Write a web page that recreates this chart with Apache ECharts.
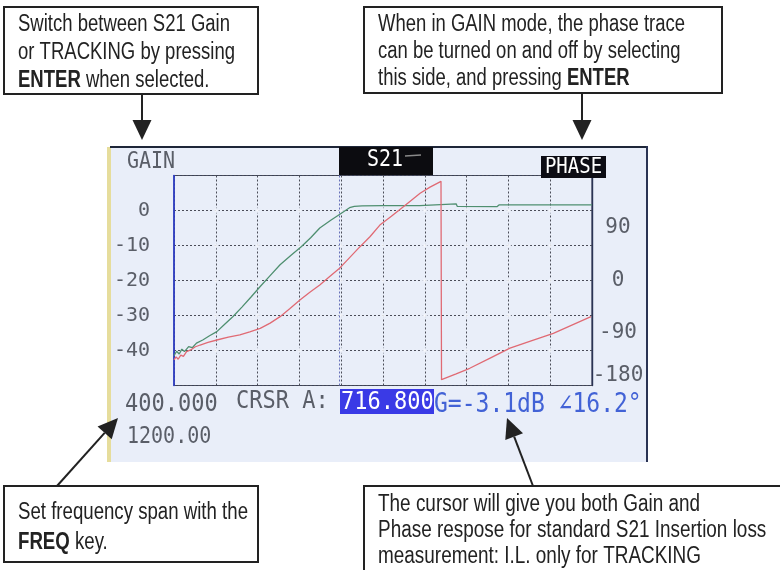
<!DOCTYPE html>
<html>
<head>
<meta charset="utf-8">
<title>S21 gain / phase screen</title>
<script src="https://cdn.jsdelivr.net/npm/echarts@6/dist/echarts.min.js"></script>
<style>
  html, body { margin: 0; padding: 0; background: #ffffff; }
  #chart { width: 780px; height: 570px; }
</style>
</head>
<body>
<div id="chart"></div>
<script>
// ── data ──
const gainFreqs  = [400, 405, 410, 415, 420, 428, 435, 443, 455, 468, 482, 497, 513, 530, 547, 565, 584, 603, 624, 644, 662, 679, 700, 716, 726, 736, 745, 760, 800, 870, 871, 940, 942, 1018, 1022, 1200];
const gainValues = [-41.5, -40.2, -41, -39.6, -40.3, -38.9, -39.2, -37.9, -37, -35.8, -34.6, -32.5, -30.3, -27.6, -24.8, -21.7, -18.6, -15.5, -12.8, -10.3, -7.7, -5, -2.8, -1.2, -0.2, 0.8, 1.2, 1.3, 1.4, 1.4, 1.9, 1.9, 1.2, 1.1, 1.6, 1.6];

const phaseFreqs  = [400, 404, 408, 413, 418, 424, 432, 440, 450, 465, 482, 504, 526, 545, 565, 584, 603, 622, 641, 660, 679, 698, 718, 737, 756, 775, 794, 816, 839, 855, 871, 890, 911, 912, 940, 966, 1005, 1043, 1085, 1126, 1198];
const phaseValues = [-136, -131, -135, -128, -130, -122, -119, -114, -110.6, -106, -102, -97, -93.4, -88, -82, -73, -62, -48, -33.4, -20, -7.7, 7, 22, 40, 58, 75, 95, 110, 126.5, 138, 149.5, 160, 170, -170, -160, -150.5, -133, -116, -103, -90.5, -62];

const freqTicks  = [480, 560, 640, 720, 800, 880, 960, 1040, 1120];
const gainTicks  = [-40, -30, -20, -10, 0];
const phaseTicks = [-180, -90, 0, 90];

const spanStart   = '400.000';
const spanStop    = '1200.00';
const cursorFreq  = 716.8;
const cursorGain  = -3.1;
const cursorPhase = 16.2;

// ── styles ──
const MONO = "'DejaVu Sans Mono', 'Liberation Mono', monospace";
const SANS = "'Liberation Sans', Arial, sans-serif";
const NOTE_SIZE = 23;
const LCD_TEXT = '#5a5e68';
const INK = '#222222';

const chart = echarts.init(document.getElementById('chart'));

function zip(xs, ys) { return xs.map((x, i) => [x, ys[i]]); }

// the callouts use a condensed face; squeeze Liberation Sans to the width of the widest line
const measureCtx = document.createElement('canvas').getContext('2d');
function squeeze(text, target) {
  measureCtx.font = NOTE_SIZE + 'px ' + SANS;
  return target / measureCtx.measureText(text).width;
}

// arrow: shaft + filled head, tip at (x2, y2)
function arrow(x1, y1, x2, y2) {
  const dx = x2 - x1, dy = y2 - y1, L = Math.hypot(dx, dy);
  const ux = dx / L, uy = dy / L, hl = 20, hw = 9.5;
  const bx = x2 - ux * hl, by = y2 - uy * hl;
  return [
    { type: 'line', shape: { x1, y1, x2: bx, y2: by }, style: { stroke: INK, lineWidth: 2 } },
    { type: 'polygon', shape: { points: [[x2, y2], [bx - uy * hw, by + ux * hw], [bx + uy * hw, by - ux * hw]] }, style: { fill: INK } },
  ];
}

function noteBox(x, y, w, h, lines, lineGap, firstY, widest) {
  const sx = squeeze(lines[0], widest);
  const els = [{ type: 'rect', shape: { x, y, width: w, height: h }, style: { fill: '#fff', stroke: INK, lineWidth: 2 } }];
  lines.forEach((t, i) => {
    els.push({
      type: 'text', x: x + 14, y: firstY + i * lineGap, scaleX: sx,
      style: {
        text: t, x: 0, y: 0, verticalAlign: 'middle', fill: INK,
        fontFamily: SANS, fontSize: NOTE_SIZE,
        rich: { b: { fontFamily: SANS, fontSize: NOTE_SIZE, fontWeight: 'bold', fill: INK } },
      },
    });
  });
  return els;
}

function lcdText(text, x, y, size, color, opts = {}) {
  return {
    type: 'text', x, y, scaleY: opts.scaleY || 1.15, z: 20,
    style: { text, x: 0, y: 0, verticalAlign: 'middle', align: opts.align || 'left', fill: color, fontFamily: MONO, fontSize: size },
  };
}

const crossDots = [];
freqTicks.forEach(f => gainTicks.forEach(g => crossDots.push([f, g])));

const graphics = [
  // screen
  { type: 'rect', z: -10, shape: { x: 110, y: 147, width: 537, height: 315 }, style: { fill: '#e9eef9' } },
  { type: 'rect', z: -9, shape: { x: 107, y: 147, width: 4, height: 315 }, style: { fill: '#e6dd9c' } },
  { type: 'rect', z: -9, shape: { x: 110, y: 146, width: 538, height: 2 }, style: { fill: '#1e2638' } },
  { type: 'rect', z: -9, shape: { x: 646, y: 146, width: 2, height: 316 }, style: { fill: '#2a3354' } },
  // header
  lcdText('GAIN', 127, 162, 20, LCD_TEXT),
  { type: 'rect', z: 15, shape: { x: 339, y: 147, width: 94, height: 28 }, style: { fill: '#0c0c10' } },
  lcdText('S21', 367, 160, 20, '#ffffff'),
  { type: 'line', z: 20, shape: { x1: 405, y1: 156, x2: 421, y2: 155 }, style: { stroke: '#8a8a8a', lineWidth: 1.5 } },
  { type: 'rect', z: 15, shape: { x: 541, y: 156, width: 65, height: 22 }, style: { fill: '#0c0c14' } },
  lcdText('PHASE', 573.5, 167, 19, '#ffffff', { align: 'center' }),
  // status line
  lcdText(spanStart, 125, 404, 22, LCD_TEXT),
  lcdText('CRSR A:', 236, 401, 22, LCD_TEXT),
  { type: 'rect', z: 15, shape: { x: 340, y: 389, width: 94, height: 25 }, style: { fill: '#3a3ae6' } },
  lcdText(cursorFreq.toFixed(3), 341, 402, 22, '#ffffff'),
  lcdText('G=' + cursorGain.toFixed(1) + 'dB \u2220' + cursorPhase.toFixed(1) + '\u00b0', 434, 405, 23, '#4262d6'),
  lcdText(spanStop, 127, 437, 20, LCD_TEXT),
  // annotation boxes
  ...noteBox(4, 7, 254, 87, ['Switch between S21 Gain', 'or TRACKING by pressing', '{b|ENTER} when selected.'], 28, 25, 212),
  ...noteBox(364, 7, 358, 86, ['When in GAIN mode, the phase trace', 'can be turned on and off by selecting', 'this side, and pressing {b|ENTER}'], 27, 25, 307),
  ...noteBox(4, 486, 254, 76, ['Set frequency span with the', '{b|FREQ} key.'], 30, 513, 230),
  ...noteBox(364, 486, 430, 100, ['The cursor will give you both Gain and', 'Phase respose for standard S21 Insertion loss', 'measurement: I.L. only for TRACKING'], 26, 505, 322),
  // arrows
  ...arrow(142, 94, 142, 140),
  ...arrow(582, 93, 582, 140),
  ...arrow(57, 486, 118, 418),
  ...arrow(533, 486, 507, 418),
];

chart.setOption({
  animation: false,
  backgroundColor: '#ffffff',
  grid: {
    left: 174, top: 175.5, width: 418, height: 210,
    show: true, borderColor: '#3c4258', borderWidth: 1.2, backgroundColor: 'transparent',
    outerBoundsMode: 'none',
  },
  xAxis: {
    type: 'value', min: 400, max: 1200, interval: 80,
    axisLine: { show: false }, axisTick: { show: false }, axisLabel: { show: false },
    splitLine: { show: true, lineStyle: { color: '#4a4c58', width: 1, type: [2, 2] } },
  },
  yAxis: [
    {
      type: 'value', min: -50, max: 10, interval: 10, position: 'left',
      axisLine: { show: true, lineStyle: { color: '#2b3bd0', width: 1.6 } },
      axisTick: { show: false },
      axisLabel: {
        margin: 24, color: LCD_TEXT, fontFamily: MONO, fontSize: 20,
        formatter: v => gainTicks.includes(v) ? String(v) : '',
      },
      splitLine: { show: true, lineStyle: { color: '#4a4c58', width: 1, type: [2, 2] } },
    },
    {
      type: 'value', min: -180, max: 180, interval: 90, position: 'right',
      axisLine: { show: true, lineStyle: { color: '#2a3354', width: 1.4 } },
      axisTick: { show: false },
      splitLine: { show: false },
      axisLabel: {
        margin: 26, align: 'center', color: LCD_TEXT, fontFamily: MONO, fontSize: 21,
        formatter: v => v === -180 ? '{lo|-180}' : (phaseTicks.includes(v) ? String(v) : ''),
        rich: { lo: { padding: [0, 0, 20, 0], color: LCD_TEXT, fontFamily: MONO, fontSize: 21 } },
      },
    },
  ],
  graphic: graphics,
  series: [
    {
      name: 'grid dots', type: 'scatter', yAxisIndex: 0, data: crossDots,
      symbol: 'emptyCircle', symbolSize: 4, silent: true,
      itemStyle: { color: '#e9eef9', borderColor: '#6c6e7a', borderWidth: 1 }, z: 1,
    },
    {
      name: 'Gain', type: 'line', yAxisIndex: 0, data: zip(gainFreqs, gainValues),
      showSymbol: false, lineStyle: { color: '#4f8f70', width: 1.3 }, z: 4,
      markLine: {
        silent: true, symbol: 'none', label: { show: false },
        lineStyle: { color: '#6670b8', type: [2, 2], width: 1 },
        data: [{ xAxis: cursorFreq }],
      },
    },
    {
      name: 'Phase', type: 'line', yAxisIndex: 1, data: zip(phaseFreqs, phaseValues),
      showSymbol: false, lineStyle: { color: '#e06a74', width: 1.3 }, z: 5,
    },
  ],
});
</script>
</body>
</html>
